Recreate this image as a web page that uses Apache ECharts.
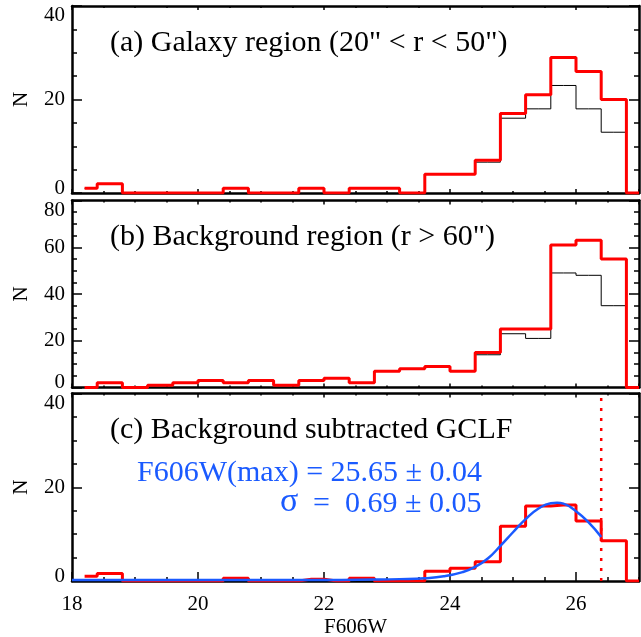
<!DOCTYPE html>
<html>
<head>
<meta charset="utf-8">
<script src="https://cdn.jsdelivr.net/npm/echarts@6/dist/echarts.min.js"></script>
<style>
  html, body { margin: 0; padding: 0; background: #fff; }
  #chart { width: 641px; height: 637px; }
</style>
</head>
<body>
<div id="chart"></div>
<script>
// bin centres (F606W), 0.4 mag bins
var binCenters = [18.2, 18.6, 19.0, 19.4, 19.8, 20.2, 20.6, 21.0, 21.4, 21.8, 22.2, 22.6,
                  23.0, 23.4, 23.8, 24.2, 24.6, 25.0, 25.4, 25.8, 26.2, 26.6, 27.0];

// (a) galaxy region
var galaxyRaw  = [1, 2, 0, 0, 0, 0, 1, 0, 0, 1, 0, 1, 1, 0, 4, 4, 6.6, 16, 18, 23, 18, 13, 0];
var galaxyCorr = [1, 2, 0, 0, 0, 0, 1, 0, 0, 1, 0, 1, 1, 0, 4, 4, 7, 17, 21, 29, 26, 20, 0];

// (b) background region
var bgRaw  = [0, 2, 0, 1, 2, 3, 2, 3, 1, 3, 4, 2, 7, 8, 9, 7, 14, 23, 21, 49, 48, 35, 0];
var bgCorr = [0, 2, 0, 1, 2, 3, 2, 3, 1, 3, 4, 2, 7, 8, 9, 7, 15, 25, 25, 61, 63, 55, 0];

// (c) background subtracted
var gclf = [1, 1.6, 0, 0, 0, 0, 0.6, 0, 0, 0.4, 0, 0.6, 0, 0, 2.1, 2.7, 4.1, 11.7, 16.0, 16.2, 12.8, 8.6, 0];

// gaussian fit curve
var fitX = [18.0, 19.0, 20.0, 21.0, 22.0, 22.8, 23.2, 23.6, 23.9, 24.2, 24.4, 24.6, 24.8,
            25.0, 25.2, 25.4, 25.6, 25.7, 25.8, 26.0, 26.2, 26.4];
var fitY = [0.2, 0.2, 0.2, 0.2, 0.2, 0.3, 0.4, 0.6, 1.0, 1.9, 3.0, 4.8, 7.5,
            10.4, 13.2, 15.4, 16.6, 16.7, 16.5, 14.9, 12.5, 9.4];

var limitMag = 26.4;
var yMax = [40, 80, 40];
var yNames = ['N', 'N', 'N'];

var FONT = '"Liberation Serif", "Times New Roman", serif';
var BLUE = '#1a5aff';

var myChart = echarts.init(document.getElementById('chart'));

var grids = [
  { left: 72, right: 2, top: 6, height: 187 },
  { left: 72, right: 2, top: 200.5, height: 187 },
  { left: 72, right: 2, top: 393.5, height: 187.5 }
];
grids.forEach(function (g) { g.containLabel = false; g.outerBoundsMode = 'none'; });

var lineBlack = { show: true, onZero: false, lineStyle: { color: '#000', width: 2.5 } };
var noLine = { show: false, onZero: false };

var xAxes = [];
var yAxes = [];
for (var i = 0; i < 3; i++) {
  var bottomPanel = (i === 2);
  // main bottom axis (labels + major ticks)
  xAxes.push({
    gridIndex: i, type: 'value', min: 18, max: 27, interval: 2, position: 'bottom',
    axisLine: lineBlack,
    axisTick: { inside: true, length: bottomPanel ? 9 : 4, lineStyle: { color: '#000', width: 1.5 } },
    axisLabel: { show: bottomPanel, showMaxLabel: false, margin: 13, color: '#000', fontSize: 21, fontFamily: FONT },
    splitLine: { show: false },
    name: bottomPanel ? 'F606W' : '', nameLocation: 'middle', nameGap: 36,
    nameTextStyle: { color: '#000', fontSize: 21, fontFamily: FONT }
  });
  // minor bottom ticks
  xAxes.push({
    gridIndex: i, type: 'value', min: 18, max: 27, interval: 0.5, position: 'bottom',
    axisLine: noLine,
    axisTick: { inside: true, length: bottomPanel ? 4 : 2, lineStyle: { color: '#000', width: 1.5 } },
    axisLabel: { show: false }, splitLine: { show: false }
  });
  // mirrored top axis
  xAxes.push({
    gridIndex: i, type: 'value', min: 18, max: 27, interval: 2, position: 'top',
    axisLine: lineBlack,
    axisTick: { inside: true, length: 4, lineStyle: { color: '#000', width: 1.5 } },
    axisLabel: { show: false }, splitLine: { show: false }
  });
  xAxes.push({
    gridIndex: i, type: 'value', min: 18, max: 27, interval: 0.5, position: 'top',
    axisLine: noLine,
    axisTick: { inside: true, length: 2, lineStyle: { color: '#000', width: 1.5 } },
    axisLabel: { show: false }, splitLine: { show: false }
  });

  (function (mx) {
    yAxes.push({
      gridIndex: i, type: 'value', min: 0, max: mx, interval: 20, position: 'left',
      axisLine: lineBlack,
      axisTick: { inside: true, length: 10, lineStyle: { color: '#000', width: 1.5 } },
      minorTick: { show: true, splitNumber: 4, length: 5, lineStyle: { color: '#000', width: 1.5 } },
      axisLabel: {
        margin: 7, color: '#000', fontSize: 21, fontFamily: FONT,
        formatter: function (v) {
          if (v === 0) return '{lo|0}';
          if (v === mx) return '{hi|' + v + '}';
          return '' + v;
        },
        rich: {
          lo: { padding: [0, 0, 10, 0], color: '#000', fontSize: 21, fontFamily: FONT },
          hi: { padding: [19, 0, 0, 0], color: '#000', fontSize: 21, fontFamily: FONT }
        }
      },
      splitLine: { show: false },
      name: yNames[i], nameLocation: 'middle', nameGap: 40, nameRotate: 90,
      nameTextStyle: { color: '#000', fontSize: 21, fontFamily: FONT }
    });
  })(yMax[i]);
  yAxes.push({
    gridIndex: i, type: 'value', min: 0, max: yMax[i], interval: 20, position: 'right',
    axisLine: lineBlack,
    axisTick: { inside: true, length: 10, lineStyle: { color: '#000', width: 1.5 } },
    minorTick: { show: true, splitNumber: 4, length: 5, lineStyle: { color: '#000', width: 1.5 } },
    axisLabel: { show: false }, splitLine: { show: false }
  });
}

function pairs(xs, ys) {
  return xs.map(function (x, k) { return [x, ys[k]]; });
}

function stepSeries(panel, values, color, width, z) {
  return {
    type: 'line', step: 'middle', xAxisIndex: panel * 4, yAxisIndex: panel * 2,
    data: pairs(binCenters, values), symbol: 'none', z: z,
    lineStyle: { color: color, width: width }
  };
}

var series = [
  stepSeries(0, galaxyRaw, '#000', 1, 3),
  stepSeries(0, galaxyCorr, '#ff0000', 3, 4),
  stepSeries(1, bgRaw, '#000', 1, 3),
  stepSeries(1, bgCorr, '#ff0000', 3, 4),
  stepSeries(2, gclf, '#ff0000', 3, 4),
  {
    type: 'line', xAxisIndex: 8, yAxisIndex: 4, smooth: true, symbol: 'none', z: 5,
    data: pairs(fitX, fitY), lineStyle: { color: BLUE, width: 2.5 }
  },
  {
    type: 'line', xAxisIndex: 8, yAxisIndex: 4, symbol: 'none', z: 5,
    data: [[limitMag, 0], [limitMag, yMax[2]]],
    lineStyle: { color: '#ff0000', width: 2.5, type: [3, 7] }
  }
];

function label(text, x, y, color, size) {
  return {
    type: 'text', z: 10,
    style: {
      text: text, x: x, y: y, fill: color, font: (size || 30) + 'px ' + FONT,
      textAlign: 'left', textVerticalAlign: 'middle'
    }
  };
}

var option = {
  animation: false,
  backgroundColor: '#fff',
  grid: grids,
  xAxis: xAxes,
  yAxis: yAxes,
  series: series,
  graphic: [
    label('(a) Galaxy region (20" < r < 50")', 110, 43, '#000'),
    label('(b) Background region (r > 60")', 110, 237, '#000'),
    label('(c) Background subtracted GCLF', 110, 430, '#000'),
    label('F606W(max) = 25.65 \u00b1 0.04', 137, 473, BLUE),
    label('\u03c3', 280, 502, BLUE, 34),
    label('=  0.69 \u00b1 0.05', 313, 504, BLUE)
  ]
};

myChart.setOption(option);
</script>
</body>
</html>
